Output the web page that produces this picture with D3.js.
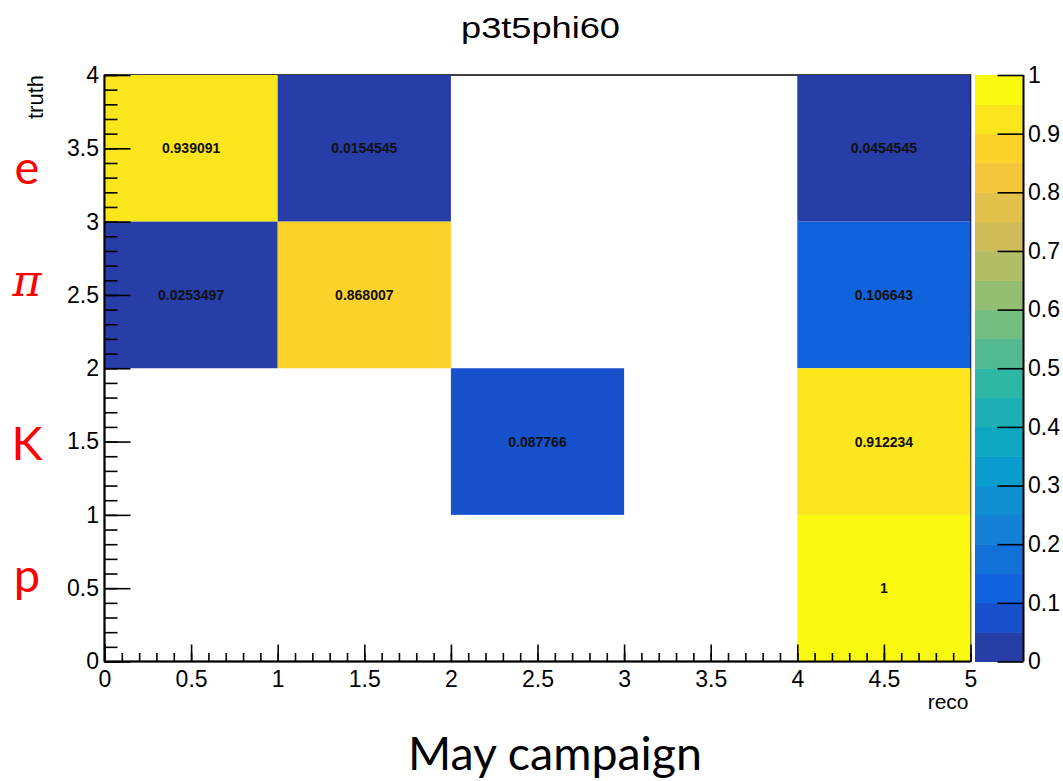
<!DOCTYPE html>
<html>
<head>
<meta charset="utf-8">
<script src="https://cdn.jsdelivr.net/npm/d3@7"></script>
<style>
  html, body { margin: 0; padding: 0; background: #fff; }
  svg { display: block; }
  text { font-family: "Liberation Sans", Arial, Helvetica, sans-serif; }
</style>
</head>
<body>
<svg id="chart" width="1063" height="781"></svg>
<script>
// ---------------- data ----------------
const title = "p3t5phi60";
const xTitle = "reco";
const yTitle = "truth";
const caption = "May campaign";

// cell centres (reco, truth) and fraction in each cell
const recoBin  = [0.5, 1.5, 4.5, 0.5, 1.5, 4.5, 2.5, 4.5, 4.5];
const truthBin = [3.5, 3.5, 3.5, 2.5, 2.5, 2.5, 1.5, 1.5, 0.5];
const fraction = [0.939091, 0.0154545, 0.0454545, 0.0253497, 0.868007, 0.106643, 0.087766, 0.912234, 1];

// particle labels next to truth rows
const particleNames = ["e", "\u03C0", "K", "p"];
const particleRow   = [3.34, 2.57, 1.49, 0.56];

// tick labels
const xMajor = [0, 0.5, 1, 1.5, 2, 2.5, 3, 3.5, 4, 4.5, 5];
const yMajor = [0, 0.5, 1, 1.5, 2, 2.5, 3, 3.5, 4];
const zMajor = [0, 0.1, 0.2, 0.3, 0.4, 0.5, 0.6, 0.7, 0.8, 0.9, 1];
const nContours = 20;

// ROOT kBird palette stops
const birdStops = [0, 0.125, 0.25, 0.375, 0.5, 0.625, 0.75, 0.875, 1];
const birdR = [0.2082, 0.0592, 0.0780, 0.0232, 0.1802, 0.5301, 0.8186, 0.9956, 0.9764];
const birdG = [0.1664, 0.3599, 0.5041, 0.6419, 0.7178, 0.7492, 0.7328, 0.7862, 0.9832];
const birdB = [0.5293, 0.8684, 0.8385, 0.7914, 0.6425, 0.4662, 0.3499, 0.1968, 0.0539];

// ---------------- scales ----------------
const svg = d3.select("#chart");
const x = d3.scaleLinear().domain([0, 5]).range([104.5, 970.5]);
const y = d3.scaleLinear().domain([0, 4]).range([661.5, 75]);
const z = d3.scaleLinear().domain([0, 1]).range([661.5, 75]);

const bird = d3.scaleLinear().domain(birdStops)
  .range(birdStops.map((s, i) => d3.rgb(birdR[i] * 255, birdG[i] * 255, birdB[i] * 255)))
  .interpolate(d3.interpolateRgb);
function levelOf(v) { return Math.min(nContours - 1, Math.floor(v * nContours + 1e-9)); }
function levelColor(l) {
  const idx = Math.floor((l + 0.99) * 255 / nContours);
  return bird(Math.min(1, idx / 255));
}

svg.append("rect").attr("width", 1063).attr("height", 781).attr("fill", "#fff");

// frame
svg.append("rect")
  .attr("x", x(0)).attr("y", y(4))
  .attr("width", x(5) - x(0)).attr("height", y(0) - y(4))
  .attr("fill", "none").attr("stroke", "#000").attr("stroke-width", 1.5);

// cells
const cells = fraction.map((v, i) => ({ rx: recoBin[i], ty: truthBin[i], v }));
svg.append("g").selectAll("rect").data(cells).join("rect")
  .attr("x", d => x(d.rx - 0.5))
  .attr("y", d => y(d.ty + 0.5))
  .attr("width", d => x(d.rx + 0.5) - x(d.rx - 0.5))
  .attr("height", d => y(d.ty - 0.5) - y(d.ty + 0.5))
  .attr("fill", d => levelColor(levelOf(d.v)));

svg.append("g").selectAll("text").data(cells).join("text")
  .attr("x", d => x(d.rx))
  .attr("y", d => y(d.ty))
  .attr("dy", "0.36em")
  .attr("text-anchor", "middle")
  .attr("font-size", 14)
  .attr("font-weight", "bold")
  .attr("fill", "#111")
  .text(d => String(d.v));

// ---------------- axes ----------------
function styleAxis(g, sw) {
  g.selectAll(".domain").remove();
  g.selectAll(".tick line").attr("stroke", "#000").attr("stroke-width", sw);
  g.selectAll(".tick text").attr("fill", "#000").attr("font-size", 23)
    .attr("font-family", "Liberation Sans, Arial, sans-serif");
}
const xMinor = d3.range(0, 51).map(i => i / 10);
const yMinor = d3.range(0, 41).map(i => i / 10);

// x axis
const gx = svg.append("g").attr("transform", `translate(0,${y(0)})`);
gx.append("g").call(d3.axisTop(x).tickValues(xMinor).tickSize(8.5).tickSizeOuter(0).tickFormat("")).call(g => styleAxis(g, 1.6));
gx.append("g").call(d3.axisTop(x).tickValues(xMajor).tickSize(17).tickSizeOuter(0).tickFormat("")).call(g => styleAxis(g, 1.6));
gx.append("g").call(d3.axisBottom(x).tickValues(xMajor).tickSize(0).tickPadding(9).tickFormat(d => String(d))).call(g => styleAxis(g, 0));
gx.append("line").attr("x1", x(0)).attr("x2", x(5)).attr("stroke", "#000").attr("stroke-width", 2);

// y axis
const gy = svg.append("g").attr("transform", `translate(${x(0)},0)`);
gy.append("g").call(d3.axisRight(y).tickValues(yMinor).tickSize(13).tickSizeOuter(0).tickFormat("")).call(g => styleAxis(g, 1.6));
gy.append("g").call(d3.axisRight(y).tickValues(yMajor).tickSize(26).tickSizeOuter(0).tickFormat("")).call(g => styleAxis(g, 1.6));
gy.append("g").call(d3.axisLeft(y).tickValues(yMajor).tickSize(0).tickPadding(5.5).tickFormat(d => String(d))).call(g => styleAxis(g, 0));
gy.append("line").attr("y1", y(0)).attr("y2", y(4)).attr("stroke", "#000").attr("stroke-width", 2);

// axis titles
svg.append("text")
  .attr("x", x(5) - 2).attr("y", y(0) + 47)
  .attr("text-anchor", "end").attr("font-size", 21).attr("fill", "#000")
  .text(xTitle);
svg.append("text")
  .attr("transform", `translate(43,${y(4)}) rotate(-90)`)
  .attr("text-anchor", "end").attr("font-size", 22).attr("fill", "#000")
  .text(yTitle);

// ---------------- colour bar ----------------
const cbX0 = 975, cbX1 = 1023.5;
const levels = d3.range(nContours);
svg.append("g").selectAll("rect").data(levels).join("rect")
  .attr("x", cbX0)
  .attr("y", l => z((l + 1) / nContours))
  .attr("width", cbX1 - cbX0)
  .attr("height", l => z(l / nContours) - z((l + 1) / nContours) + 0.5)
  .attr("fill", l => levelColor(l));
const gz = svg.append("g").attr("transform", `translate(${cbX1},0)`);
gz.append("g").call(d3.axisLeft(z).tickValues(zMajor).tickSize(26).tickSizeOuter(0).tickFormat("")).call(g => styleAxis(g, 1.6));
gz.append("g").call(d3.axisRight(z).tickValues(zMajor).tickSize(0).tickPadding(4.5).tickFormat(d => String(d))).call(g => styleAxis(g, 0));
gz.append("line").attr("y1", z(0)).attr("y2", z(1)).attr("stroke", "#000").attr("stroke-width", 2);

// ---------------- titles ----------------
svg.append("text")
  .attr("x", 540.5).attr("y", 38)
  .attr("text-anchor", "middle").attr("font-size", 29).attr("fill", "#000")
  .attr("textLength", 159).attr("lengthAdjust", "spacingAndGlyphs")
  .text(title);

svg.append("text")
  .attr("x", 555).attr("y", 770)
  .attr("text-anchor", "middle").attr("font-size", 46.5).attr("fill", "#000")
  .style("font-family", "Lato, 'Open Sans', sans-serif")
  .text(caption);

// particle labels
svg.append("g").selectAll("text").data(particleNames).join("text")
  .attr("x", 27)
  .attr("y", (d, i) => y(particleRow[i]))
  .attr("dy", (d, i) => i === 2 ? "0.36em" : "0.26em")
  .attr("text-anchor", "middle")
  .attr("font-size", (d, i) => i === 1 ? 44 : 47)
  .attr("font-style", (d, i) => i === 1 ? "italic" : "normal")
  .attr("fill", "#ff0000")
  .style("font-family", (d, i) => i === 1 ? "'DejaVu Serif', 'Liberation Serif', serif" : "Lato, 'Open Sans', sans-serif")
  .text(d => d);
</script>
</body>
</html>
